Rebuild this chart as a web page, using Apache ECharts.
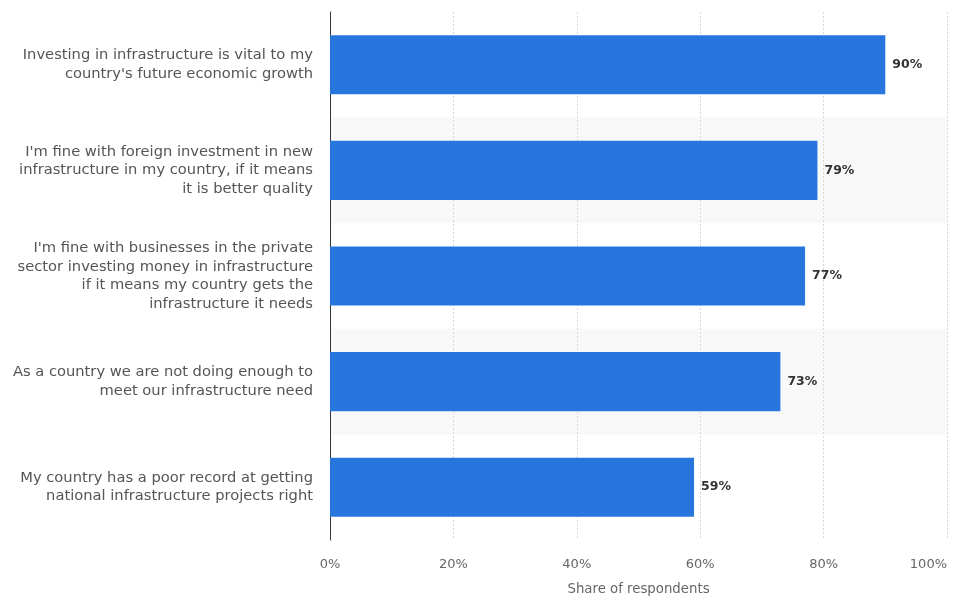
<!DOCTYPE html>
<html><head><meta charset="utf-8">
<script src="https://cdn.jsdelivr.net/npm/echarts@6/dist/echarts.min.js"></script>
<style>html,body{margin:0;padding:0;background:#fff}#c{width:967px;height:596px}</style>
</head><body><div id="c"></div>
<script>
const categories = [
  "Investing in infrastructure is vital to my\ncountry's future economic growth",
  "I'm fine with foreign investment in new\ninfrastructure in my country, if it means\nit is better quality",
  "I'm fine with businesses in the private\nsector investing money in infrastructure\nif it means my country gets the\ninfrastructure it needs",
  "As a country we are not doing enough to\nmeet our infrastructure need",
  "My country has a poor record at getting\nnational infrastructure projects right"
];
const values = [90, 79, 77, 73, 59];
const xTicks = [0, 20, 40, 60, 80, 100];

const chart = echarts.init(document.getElementById('c'), null, {renderer: 'canvas'});
chart.setOption({
  animation: false,
  grid: {left: 330, right: 20, top: 12, bottom: 56, outerBoundsMode: 'none', containLabel: false},
  xAxis: {
    type: 'value', min: 0, max: 100, interval: 20,
    name: 'Share of respondents', nameLocation: 'middle', nameGap: 43,
    nameTextStyle: {color: '#666', fontSize: 13.3, fontFamily: 'DejaVu Sans'},
    axisLine: {show: false}, axisTick: {show: false},
    axisLabel: {color: '#666', fontSize: 13, fontFamily: 'DejaVu Sans', margin: 18,
      alignMaxLabel: 'right',
      formatter: v => xTicks.includes(v) ? v + '%' : ''},
    splitLine: {show: true, lineStyle: {color: '#d8d8d8', type: [2, 2], width: 1}}
  },
  yAxis: {
    type: 'category', data: categories, inverse: true,
    axisLine: {show: true, lineStyle: {color: '#333', width: 1}},
    axisTick: {show: false},
    axisLabel: {color: '#555', fontSize: 14.7, fontFamily: 'DejaVu Sans', lineHeight: 18.5, margin: 17, align: 'right'},
    splitArea: {show: true, areaStyle: {color: ['rgba(255,255,255,0)', '#f8f8f8']}}
  },
  series: [{
    type: 'bar', data: values, barWidth: '56%',
    itemStyle: {color: '#2876dd'},
    label: {show: true, position: 'right', distance: 7, formatter: '{c}%',
      color: '#333', fontSize: 12.5, fontWeight: 'bold', fontFamily: 'DejaVu Sans'}
  }]
});
</script></body></html>
